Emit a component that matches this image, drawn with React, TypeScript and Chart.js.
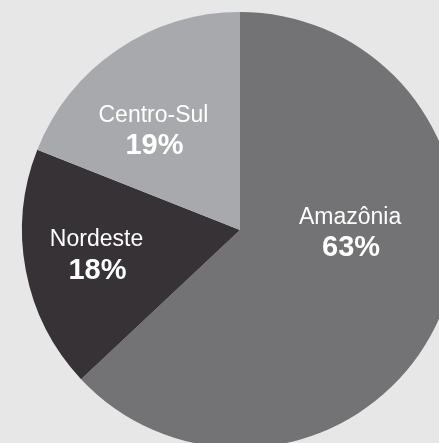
import React, { useEffect, useRef } from "react";
import { Chart, registerables } from "chart.js";

Chart.register(...registerables);

const categories = ["Amazônia", "Nordeste", "Centro-Sul"];
const shares = [63, 18, 19];
const sliceColors = ["#737274", "#363236", "#a7a9ac"];

// label placement relative to each slice: angle offset (deg) from slice middle, fraction of radius
const labelPlacement = [
  { angleOffset: -22.9, radiusFrac: 0.505 },
  { angleOffset: 1.5, radiusFrac: 0.667 },
  { angleOffset: -6.4, radiusFrac: 0.61 },
];

const BG = "#e6e7e6";
const FONT = "'Liberation Sans', Arial, Helvetica, sans-serif";

const labelPlugin = {
  id: "sliceLabels",
  afterDatasetsDraw(chart: any) {
    const ctx = chart.ctx;
    const meta = chart.getDatasetMeta(0);
    ctx.save();
    ctx.fillStyle = "#ffffff";
    ctx.textAlign = "center";
    ctx.textBaseline = "alphabetic";
    meta.data.forEach((arc: any, i: number) => {
      const p = arc.getProps(["x", "y", "startAngle", "endAngle", "outerRadius"], true);
      const place = labelPlacement[i];
      const a = (p.startAngle + p.endAngle) / 2 + (place.angleOffset * Math.PI) / 180;
      const r = p.outerRadius * place.radiusFrac;
      const cx = p.x + Math.cos(a) * r;
      const cy = p.y + Math.sin(a) * r;
      ctx.font = `23px ${FONT}`;
      ctx.fillText(categories[i], cx, cy - 15 + 7.6);
      ctx.font = `bold 29px ${FONT}`;
      ctx.fillText(`${shares[i]}%`, cx + 1, cy + 15 + 10.4);
    });
    ctx.restore();
  },
};

export default function App() {
  const ref = useRef<HTMLCanvasElement | null>(null);
  useEffect(() => {
    if (!ref.current) return;
    const chart = new Chart(ref.current, {
      type: "pie",
      data: {
        labels: categories,
        datasets: [
          {
            data: shares,
            backgroundColor: sliceColors,
            borderWidth: 0,
          },
        ],
      },
      options: {
        animation: false,
        responsive: false,
        maintainAspectRatio: false,
        layout: { padding: 0 },
        plugins: {
          legend: { display: false },
          tooltip: { enabled: false },
        },
      },
      plugins: [labelPlugin],
    });
    return () => chart.destroy();
  }, []);

  return (
    <div
      style={{
        position: "fixed",
        left: 0,
        top: 0,
        width: 439,
        height: 443,
        overflow: "hidden",
        background: BG,
      }}
    >
      <canvas
        ref={ref}
        width={480}
        height={436}
        style={{ position: "absolute", left: 0, top: 12, width: 480, height: 436 }}
      />
    </div>
  );
}
